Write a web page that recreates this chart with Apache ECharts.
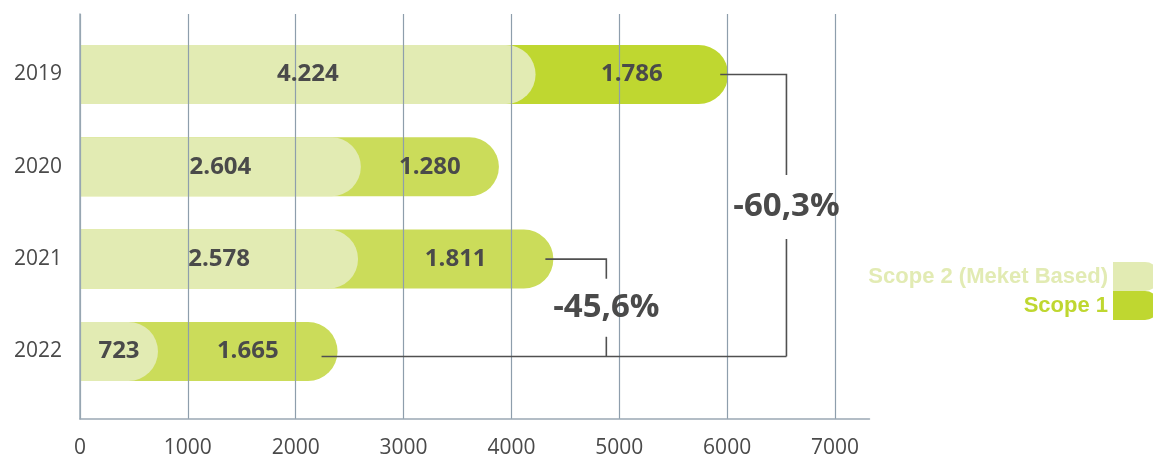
<!DOCTYPE html>
<html>
<head>
<meta charset="utf-8">
<script src="https://cdn.jsdelivr.net/npm/echarts@6/dist/echarts.min.js"></script>
<style>
html,body{margin:0;padding:0;background:#fff;}
#chart{width:1153px;height:459px;}
</style>
</head>
<body>
<div id="chart"></div>
<script>
const categories = ['2019', '2020', '2021', '2022'];
const scope2 = [4224, 2604, 2578, 723];
const scope1 = [1786, 1280, 1811, 1665];
const xMin = 0;
const xMax = 7320;
const xInterval = 1000;
const legendNames = ['Scope 2 (Meket Based)', 'Scope 1'];
const bracketLabels = ['-60,3%', '-45,6%'];
const bracketFrom = [0, 2];
const bracketTo = 3;
const bracketX = [6550, 4880];

const totals = scope2.map((v, i) => v + scope1[i]);
const LIGHT = '#e2ebb3';
const DARK = '#cbdc5a';
const DARK_2019 = '#bfd730';
const TEXT = '#4a4a4a';
const GRIDC = '#8e9eac';
const fmt = v => String(v).replace(/\B(?=(\d{3})+(?!\d))/g, '.');

const chart = echarts.init(document.getElementById('chart'), null, {renderer: 'canvas'});
const GL = 80, GR = 283.5;
const radius = [0, 30, 30, 0];

chart.setOption({
  animation: false,
  grid: [
    {left: GL, right: GR, top: 28.3, bottom: 61.4},
    {left: GL, right: GR, top: 14, bottom: 37}
  ],
  xAxis: [
    {gridIndex: 0, type: 'value', min: xMin, max: xMax, show: false},
    {gridIndex: 1, type: 'value', min: xMin, max: xMax, interval: xInterval, z: 3,
     axisLine: {show: true, lineStyle: {color: '#9aa8b4', width: 1.5}},
     axisTick: {show: false},
     splitLine: {show: true, showMaxLine: false, lineStyle: {color: GRIDC, width: 1.2}},
     axisLabel: {showMaxLabel: false, formatter: v => String(v), color: TEXT, fontSize: 21, fontFamily: 'Open Sans', margin: 19}}
  ],
  yAxis: [
    {gridIndex: 0, type: 'category', data: categories, inverse: true,
     axisLine: {show: false}, axisTick: {show: false}, splitLine: {show: false},
     axisLabel: {color: TEXT, fontSize: 21, fontFamily: 'Open Sans', margin: 18}},
    {gridIndex: 1, type: 'value', min: 0, max: 1, z: 3,
     axisLine: {show: true, lineStyle: {color: '#9aa8b4', width: 1.5}},
     axisTick: {show: false}, axisLabel: {show: false}, splitLine: {show: false}}
  ],
  legend: {
    orient: 'vertical', align: 'right', right: -6.5, top: 262, padding: 0,
    itemWidth: 46.5, itemHeight: 29, itemGap: 0,
    icon: 'path://M0,0H32A14.5,14.5 0 0 1 32,29H0Z',
    selectedMode: false,
    textStyle: {fontSize: 22, fontWeight: 'bold', fontFamily: "'Liberation Sans', Arial, sans-serif"},
    data: [
      {name: legendNames[0], itemStyle: {color: LIGHT}, textStyle: {color: LIGHT}},
      {name: legendNames[1], itemStyle: {color: DARK_2019}, textStyle: {color: DARK_2019}}
    ]
  },
  series: [
    {name: legendNames[1], type: 'bar', xAxisIndex: 0, yAxisIndex: 0, data: totals,
     barWidth: 59, barGap: '-100%', z: 2, silent: true,
     itemStyle: {color: p => p.dataIndex === 0 ? DARK_2019 : DARK, borderRadius: radius}},
    {name: legendNames[0], type: 'bar', xAxisIndex: 0, yAxisIndex: 0, data: scope2,
     barWidth: 59, barGap: '-100%', z: 2, silent: true,
     itemStyle: {color: LIGHT, borderRadius: radius}},
    {name: 'lbl2', type: 'bar', stack: 'lbl', xAxisIndex: 0, yAxisIndex: 0, data: scope2,
     barWidth: 59, barGap: '-100%', z: 4, silent: true,
     itemStyle: {color: 'rgba(0,0,0,0)'},
     label: {show: true, position: 'inside', formatter: p => fmt(p.value), color: TEXT,
             fontSize: 24, fontWeight: 'bold', fontFamily: 'Open Sans'}},
    {name: 'lbl1', type: 'bar', stack: 'lbl', xAxisIndex: 0, yAxisIndex: 0, data: scope1,
     barWidth: 59, barGap: '-100%', z: 4, silent: true,
     itemStyle: {color: 'rgba(0,0,0,0)'},
     label: {show: true, position: 'inside', formatter: p => fmt(p.value), color: TEXT,
             fontSize: 24, fontWeight: 'bold', fontFamily: 'Open Sans'}}
  ]
});

// Brackets, positioned through the chart's own scales
const px = (v, i) => chart.convertToPixel({xAxisIndex: 0, yAxisIndex: 0}, [v, i]);
const lineStyle = {stroke: '#505050', lineWidth: 1.6};
const graphics = [];
const bottomY = px(0, bracketTo)[1] + 5;
const endBottom = px(totals[bracketTo], bracketTo)[0] - 16;
const fracs = [0.47, 0.5];
const gaps = [32, 29];
bracketLabels.forEach((lab, k) => {
  const from = bracketFrom[k];
  const s = px(totals[from], from);
  const vx = px(bracketX[k], from)[0];
  const y0 = s[1];
  const ly = y0 + (bottomY - y0) * fracs[k];
  graphics.push({type: 'polyline', z: 10, silent: true,
    shape: {points: [[s[0] - 8, y0], [vx, y0], [vx, ly - gaps[k]]]}, style: Object.assign({fill: null}, lineStyle)});
  graphics.push({type: 'polyline', z: 10, silent: true,
    shape: {points: [[vx, ly + gaps[k]], [vx, bottomY]]}, style: Object.assign({fill: null}, lineStyle)});
  graphics.push({type: 'text', z: 11, silent: true, x: vx, y: ly,
    style: {text: lab, fill: TEXT, font: "bold 33px 'Open Sans'", align: 'center', verticalAlign: 'middle'}});
});
const vxMax = Math.max(...bracketX.map((b, k) => px(b, bracketFrom[k])[0]));
graphics.push({type: 'line', z: 10, silent: true,
  shape: {x1: endBottom, y1: bottomY, x2: vxMax, y2: bottomY}, style: lineStyle});
chart.setOption({graphic: graphics});
</script>
</body>
</html>
